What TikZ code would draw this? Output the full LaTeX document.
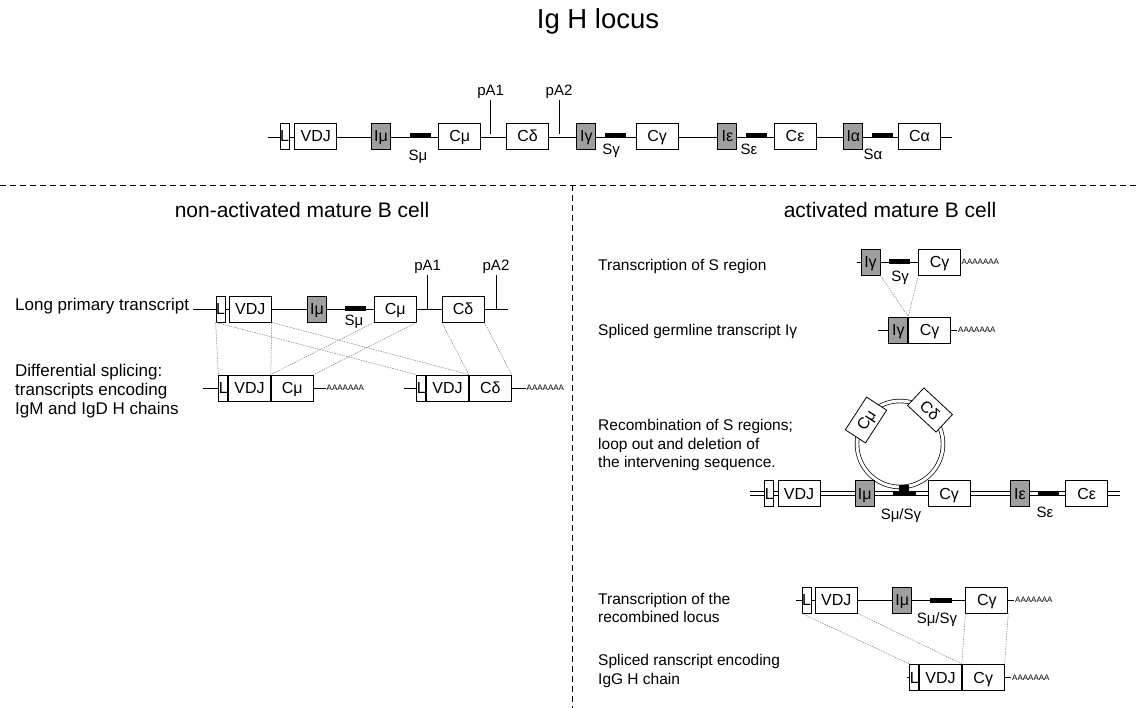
\documentclass[tikz,border=0pt]{standalone}
\usepackage{fontspec}
\setmainfont{Liberation Sans}
\usetikzlibrary{positioning, backgrounds}

\begin{document}
\begin{tikzpicture}[
    x=1pt, y=-1pt,
    exon/.style={rectangle, draw=black, line width=0.8pt, fill=white, minimum width=42pt, minimum height=26pt, inner sep=0pt, text height=11.6pt, text depth=0pt, font=\fontsize{16}{18}\selectfont},
    iexon/.style={exon, fill=gray!75, minimum width=19pt},
    lead/.style={exon, minimum width=8.5pt},
    sreg/.style={rectangle, fill=black, minimum width=21pt, minimum height=5pt, inner sep=0pt},
    dna/.style={double, double distance=3pt, line width=0.7pt},
    rna/.style={line width=0.8pt},
    splice/.style={gray, line width=0.5pt, dash pattern=on 1.5pt off 1pt},
    polya/.style={anchor=west, inner sep=1pt, font=\fontsize{8}{9}\selectfont},
    slbl/.style={anchor=base, inner sep=0pt, font=\fontsize{15}{17}\selectfont},
    patag/.style={inner sep=1pt, font=\fontsize{15}{17}\selectfont},
    note/.style={anchor=west, align=left, inner sep=0pt, font=\fontsize{17}{19}\selectfont},
    rnote/.style={note, font=\fontsize{15.5}{18.5}\selectfont},
    heading/.style={font=\fontsize{21}{25}\selectfont},
    divider/.style={line width=0.8pt, dash pattern=on 6pt off 4pt}
]
    \useasboundingbox (0,0) rectangle (1136,708);

    % Titulos
    \node[font=\fontsize{27.5}{32}\selectfont] (title) at (598,21) {Ig H locus};
    \node[heading] (hleft) at (302,210) {non-activated mature B cell};
    \node[heading] (hright) at (890,210) {activated mature B cell};

    % Separadores
    \coordinate (d0) at (0,185.5);
    \coordinate (d1) at (1136,185.5);
    \coordinate (v0) at (572,185.5);
    \coordinate (v1) at (572,708);
    \draw[divider] (d0) -- (d1);
    \draw[divider] (v0) -- (v1);

    % Locus germinal
    \node[lead] (L0) at (284.5,136) {L};
    \node[exon, right=5pt of L0] (VDJ0) {VDJ};
    \node[iexon, right=34pt of VDJ0] (Imu0) {Iμ};
    \node[sreg, right=19pt of Imu0] (Smu0) {};
    \node[exon, right=7pt of Smu0] (Cmu0) {Cμ};
    \node[exon, right=25pt of Cmu0] (Cdel0) {Cδ};
    \node[iexon, right=27.5pt of Cdel0] (Igam0) {Iγ};
    \node[sreg, right=9pt of Igam0] (Sgam0) {};
    \node[exon, right=9pt of Sgam0] (Cgam0) {Cγ};
    \node[iexon, right=39pt of Cgam0] (Ieps0) {Iε};
    \node[sreg, right=8.5pt of Ieps0] (Seps0) {};
    \node[exon, right=6.5pt of Seps0] (Ceps0) {Cε};
    \node[iexon, right=27pt of Ceps0] (Ialp0) {Iα};
    \node[sreg, right=8.5pt of Ialp0] (Salp0) {};
    \node[exon, right=5pt of Salp0] (Calp0) {Cα};
    \node[slbl] (Smu0l) at (418,161) {Sμ};
    \node[slbl] (Sgam0l) at (611,154.5) {Sγ};
    \node[slbl] (Seps0l) at (749,155) {Sε};
    \node[slbl] (Salp0l) at (873,159.5) {Sα};
    \node[patag] (pa10) at (490.7,92) {pA1};
    \node[patag] (pa20) at (559,92) {pA2};
    \coordinate (s0) at (268,136);
    \coordinate (e0) at (952,136);
    \begin{scope}[on background layer]
        \draw[rna] (pa10.south) -- (pa10.south |- s0);
        \draw[rna] (pa20.south) -- (pa20.south |- s0);
        \draw[dna] (s0) -- (e0);
    \end{scope}

    % Transcrito primario largo
    \node[note] (lpt) at (15,306) {Long primary transcript};
    \node[lead] (L1) at (220.5,309) {L};
    \node[exon, right=3.5pt of L1] (VDJ1) {VDJ};
    \node[iexon, right=35.5pt of VDJ1] (Imu1) {Iμ};
    \node[sreg, right=18pt of Imu1] (Smu1) {};
    \node[exon, right=7.5pt of Smu1] (Cmu1) {Cμ};
    \node[exon, right=25pt of Cmu1] (Cdel1) {Cδ};
    \node[slbl] (Smu1l) at (354,326) {Sμ};
    \node[patag] (pa11) at (427.7,267) {pA1};
    \node[patag] (pa21) at (496,267) {pA2};
    \coordinate (s1) at (193,309);
    \coordinate (e1) at (508.3,309);
    \begin{scope}[on background layer]
        \draw[rna] (pa11.south) -- (pa11.south |- s1);
        \draw[rna] (pa21.south) -- (pa21.south |- s1);
        \draw[rna] (s1) -- (e1);
    \end{scope}

    % Splicing diferencial
    \node[note] (dsp) at (15,391) {Differential splicing:\\transcripts encoding\\IgM and IgD H chains};
    \node[lead] (L2) at (223.2,388) {L};
    \node[exon, right=0pt of L2] (VDJ2) {VDJ};
    \node[exon, right=0pt of VDJ2] (Cmu2) {Cμ};
    \node[polya] (pA2m) at (325.5,388) {AAAAAAA};
    \coordinate (s2) at (203,388);
    \node[lead] (L3) at (421.2,388) {L};
    \node[exon, right=0pt of L3] (VDJ3) {VDJ};
    \node[exon, right=0pt of VDJ3] (Cdel3) {Cδ};
    \node[polya] (pA3d) at (525.5,388) {AAAAAAA};
    \coordinate (s3) at (404,388);
    \begin{scope}[on background layer]
        \draw[rna] (s2) -- (pA2m.west);
        \draw[rna] (s3) -- (pA3d.west);
    \end{scope}
    \draw[splice] (L1.south west) -- (L2.north west);
    \draw[splice] (VDJ1.south east) -- (VDJ2.north east);
    \draw[splice] (Cmu1.south west) -- (VDJ2.north east);
    \draw[splice] (Cmu1.south east) -- (Cmu2.north east);
    \draw[splice] (L1.south west) -- (L3.north west);
    \draw[splice] (VDJ1.south east) -- (VDJ3.north east);
    \draw[splice] (Cdel1.south west) -- (VDJ3.north east);
    \draw[splice] (Cdel1.south east) -- (Cdel3.north east);

    % Transcrito germinal
    \node[rnote] (t1) at (598,266) {Transcription of S region};
    \node[iexon] (Igam4) at (870.5,262) {Iγ};
    \node[sreg, right=8.5pt of Igam4] (Sgam4) {};
    \node[exon, right=8pt of Sgam4] (Cgam4) {Cγ};
    \node[polya] (pA4) at (960.5,262) {AAAAAAA};
    \node[slbl] (Sgam4l) at (900,282) {Sγ};
    \coordinate (s4) at (856.7,262);
    \node[rnote] (t2) at (598,331) {Spliced germline transcript Iγ};
    \node[iexon] (Igam5) at (898.3,330) {Iγ};
    \node[exon, right=0pt of Igam5] (Cgam5) {Cγ};
    \node[polya] (pA5) at (957,330) {AAAAAAA};
    \coordinate (s5) at (878.3,330);
    \begin{scope}[on background layer]
        \draw[rna] (s4) -- (Cgam4.west);
        \draw[rna] (s5) -- (pA5.west);
    \end{scope}
    \draw[splice] (Igam4.south east) -- (Igam5.north east);
    \draw[splice] (Cgam4.south west) -- (Igam5.north east);

    % Recombinacion
    \node[rnote] (t3) at (598,445) {Recombination of S regions;\\loop out and deletion of\\the intervening sequence.};
    \node[lead] (L6) at (769.2,493.5) {L};
    \node[exon, right=3.5pt of L6] (VDJ6) {VDJ};
    \node[iexon, right=34.5pt of VDJ6] (Imu6) {Iμ};
    \node[sreg, minimum width=22.7pt, right=18pt of Imu6] (Ssw6) {};
    \node[sreg, minimum width=10pt, minimum height=6pt, anchor=south] (bump6) at (Ssw6.north) {};
    \node[exon, right=12pt of Ssw6] (Cgam6) {Cγ};
    \node[iexon, right=39.5pt of Cgam6] (Ieps6) {Iε};
    \node[sreg, right=7.5pt of Ieps6] (Seps6) {};
    \node[exon, right=6.5pt of Seps6] (Ceps6) {Cε};
    \node[slbl] (Ssw6l) at (901,519) {Sμ/Sγ};
    \node[slbl] (Seps6l) at (1045,518) {Sε};
    \coordinate (loop) at (900,444);
    \coordinate (s6) at (750,493.5);
    \coordinate (e6) at (1120,493.5);
    \begin{scope}[on background layer]
        \draw[dna] (s6) -- (e6);
        \draw[dna] (loop) circle (43);
    \end{scope}
    \node[exon, minimum width=39pt, minimum height=24pt, rotate=57] (Cmu6) at (866,420) {Cμ};
    \node[exon, minimum width=39pt, minimum height=24pt, rotate=-43] (Cdel6) at (930,410) {Cδ};

    % Locus recombinado
    \node[rnote] (t4) at (598,608) {Transcription of the\\recombined locus};
    \node[lead] (L7) at (806.6,600) {L};
    \node[exon, right=3.5pt of L7] (VDJ7) {VDJ};
    \node[iexon, right=34.5pt of VDJ7] (Imu7) {Iμ};
    \node[sreg, minimum width=22.5pt, right=17.5pt of Imu7] (Ssw7) {};
    \node[exon, right=13pt of Ssw7] (Cgam7) {Cγ};
    \node[polya] (pA7) at (1014,600) {AAAAAAA};
    \node[slbl] (Ssw7l) at (937,623) {Sμ/Sγ};
    \coordinate (s7) at (796,600);
    \node[rnote] (t5) at (598,671) {Spliced ranscript encoding\\IgG H chain};
    \node[lead] (L8) at (914.2,677.3) {L};
    \node[exon, right=0pt of L8] (VDJ8) {VDJ};
    \node[exon, right=0pt of VDJ8] (Cgam8) {Cγ};
    \node[polya] (pA8) at (1011,677.3) {AAAAAAA};
    \coordinate (s8) at (906.7,677.3);
    \begin{scope}[on background layer]
        \draw[rna] (s7) -- (pA7.west);
        \draw[rna] (s8) -- (pA8.west);
    \end{scope}
    \draw[splice] (L7.south west) -- (L8.north west);
    \draw[splice] (VDJ7.south east) -- (VDJ8.north east);
    \draw[splice] (Cgam7.south west) -- (VDJ8.north east);
    \draw[splice] (Cgam7.south east) -- (Cgam8.north east);

\end{tikzpicture}
\end{document}
